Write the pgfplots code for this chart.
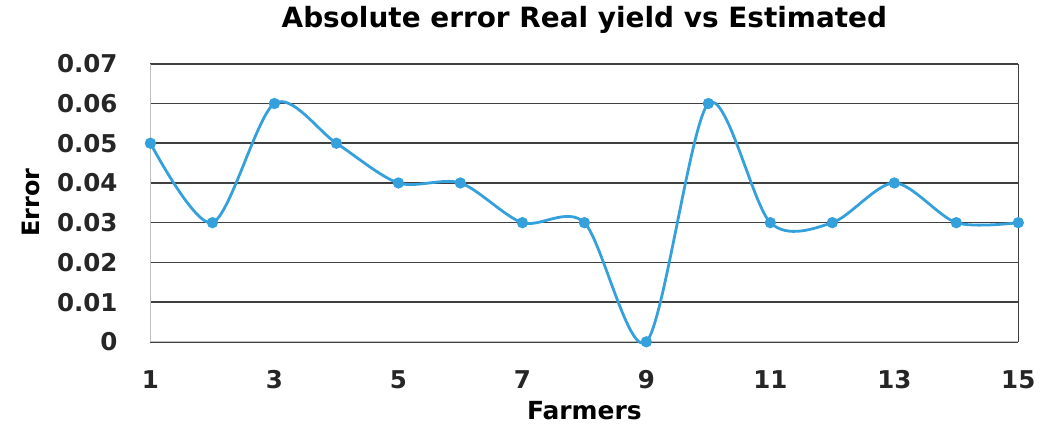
\documentclass[border=0pt]{standalone}
\usepackage{fontspec}
\setmainfont{DejaVu Sans}
\usepackage{pgfplots}
\pgfplotsset{compat=1.18}
\usetikzlibrary{calc}
\definecolor{lineblue}{RGB}{52,160,220}
\begin{document}
\begin{tikzpicture}
\begin{axis}[
  scale only axis,
  width=435.5pt, height=139.5pt,
  xmin=1, xmax=15, ymin=0, ymax=0.07,
  xtick={1,3,5,7,9,11,13,15},
  ytick={0,0.01,0.02,0.03,0.04,0.05,0.06,0.07},
  yticklabels={0,0.01,0.02,0.03,0.04,0.05,0.06,0.07},
  xticklabels={1,3,5,7,9,11,13,15},
  scaled y ticks=false,
  major tick length=0pt,
  ymajorgrids,
  major grid style={draw=black!75, line width=0.8pt},
  axis line style={draw=black!25, line width=0.6pt},
  axis x line*=bottom, axis y line*=left,
  ticklabel style={font=\fontsize{12.3}{12.3}\selectfont\bfseries, text=black!85},
  yticklabel style={xshift=-13pt},
  xticklabel style={yshift=-11pt},
  title={\fontsize{14}{14}\selectfont\bfseries Absolute error Real yield vs Estimated},
  title style={yshift=5.5pt},
  xlabel={\fontsize{12.5}{12.5}\selectfont\bfseries Farmers},
  ylabel={\fontsize{12}{12}\selectfont\bfseries Error},
  xlabel style={yshift=1pt},
  ylabel style={yshift=2pt},
  clip=false,
]
\draw[black!75, line width=0.8pt] (rel axis cs:1,0) -- (rel axis cs:1,1);
\addplot[lineblue, line width=1.4pt, smooth, tension=0.5,
  mark=*, mark size=2.1pt, mark options={fill=lineblue, draw=lineblue}]
  coordinates {
  (1,0.05) (2,0.03) (3,0.06) (4,0.05) (5,0.04) (6,0.04) (7,0.03) (8,0.03)
  (9,0) (10,0.06) (11,0.03) (12,0.03) (13,0.04) (14,0.03) (15,0.03)
  };
\end{axis}
\path[use as bounding box] ($(current axis.south west)+(-75.5pt,-41.5pt)$) rectangle ($(current axis.north east)+(10pt,31.5pt)$);
\end{tikzpicture}
\end{document}
